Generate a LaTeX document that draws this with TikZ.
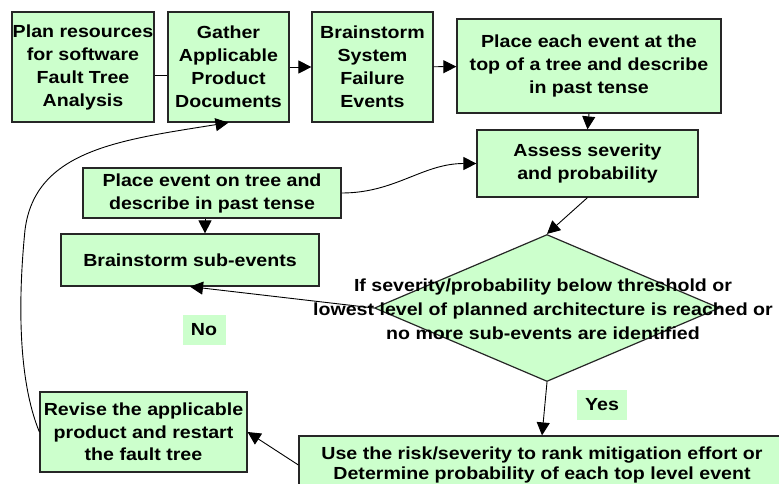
\documentclass[tikz,border=0pt]{standalone}
\usepackage{fontspec}
\setmainfont{Liberation Sans}[FakeStretch=1.12]
\usetikzlibrary{shapes.geometric,arrows.meta}
\definecolor{boxgreen}{RGB}{204,255,204}
\begin{document}
\begin{tikzpicture}[x=1pt,y=-1pt,
    box/.style={draw=black!85,line width=1.2pt,fill=boxgreen,align=center,inner sep=0pt},
    tag/.style={fill=boxgreen,inner sep=0pt},
    arr/.style={-{Triangle[length=13pt,width=13pt]},line width=0.9pt},
    every node/.style={font=\fontsize{17.5}{23}\selectfont\bfseries}]
  \useasboundingbox (0,0) rectangle (779,483);
  \node (plan) [box,minimum width=142,minimum height=110] at (83,67) {Plan resources\\for software\\Fault Tree\\Analysis};
  \node (gather) [box,minimum width=121,minimum height=110] at (228.5,67) {Gather\\Applicable\\Product\\Documents};
  \node (fail) [box,minimum width=121,minimum height=110] at (372.5,67) {Brainstorm\\System\\Failure\\Events};
  \node (top) [box,minimum width=264,minimum height=94] at (589,66) {Place each event at the\\top of a tree and describe\\in past tense};
  \node (assess) [box,minimum width=221,minimum height=67] at (587.5,163.5) {Assess severity\\and probability};
  \node (tree) [box,minimum width=258,minimum height=50] at (212,193) {Place event on tree and\\describe in past tense};
  \node (sub) [box,minimum width=258,minimum height=52] at (190,260) {Brainstorm sub-events};
  \node (dec) [box,diamond,minimum width=345,minimum height=147] at (547,308) {};
  \node (dectext) [align=center,font=\fontsize{17.5}{24}\selectfont\bfseries] at (543,309) {If severity/probability below threshold or\\lowest level of planned architecture is reached or\\no more sub-events are identified};
  \node (no) [tag,minimum width=43,minimum height=30] at (204,330) {No};
  \node (yes) [tag,minimum width=50,minimum height=30] at (602,405) {Yes};
  \node (rank) [box,minimum width=486,minimum height=58,font=\fontsize{17.5}{20}\selectfont\bfseries] at (542,465) {Use the risk/severity to rank mitigation effort or\\Determine probability of each top level event};
  \node (rev) [box,minimum width=207,minimum height=80,font=\fontsize{17.5}{22.5}\selectfont\bfseries] at (143.5,432) {Revise the applicable\\product and restart\\the fault tree};
  % connectors
  \draw [line width=0.9pt] ([yshift=-8pt]plan.east)--([yshift=-8pt]gather.west);
  \draw [arr] (gather)--(fail);
  \draw [arr] (fail)--(top);
  \draw [arr] (top.south)--(assess.north);
  \draw [arr] (tree.east) to[out=0,in=180] (assess.west);
  \draw [arr] ([xshift=-7pt]tree.south)--([xshift=-7pt]tree.south |- sub.north);
  \draw [arr] (assess.south)--(dec.north);
  \draw [arr] (dec.west)--(sub.south);
  \draw [arr] (dec.south)--(rank.north);
  \draw [arr] (rank.west)--(rev.east);
  \draw [arr] (rev.west) .. controls (18,380) and (18,300) .. (25,230) .. controls (35,150) and (120,140) .. (gather.south);
\end{tikzpicture}
\end{document}
